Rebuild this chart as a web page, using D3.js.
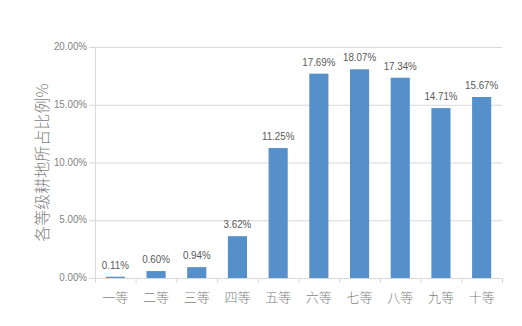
<!DOCTYPE html>
<html>
<head>
<meta charset="utf-8">
<script src="https://cdn.jsdelivr.net/npm/d3@7"></script>
<style>
  body { margin: 0; background: #fff; }
  text { font-family: "Liberation Sans", Arial, sans-serif; }
  .cjk { font-family: "Noto Sans CJK SC", sans-serif; font-weight: 300; }
</style>
</head>
<body>
<div id="chart"></div>
<script>
const categories = ["一等", "二等", "三等", "四等", "五等", "六等", "七等", "八等", "九等", "十等"];
const values = [0.11, 0.60, 0.94, 3.62, 11.25, 17.69, 18.07, 17.34, 14.71, 15.67];
const yTicks = [0, 5, 10, 15, 20];

const width = 522, height = 326;
const margin = { top: 47, right: 20, bottom: 48, left: 95 };
const narrow = 0.85; // the original uses a condensed face for numbers

const svg = d3.select("#chart").append("svg")
    .attr("width", width).attr("height", height);

const x = d3.scaleBand().domain(categories)
    .range([margin.left, width - margin.right]).paddingInner(0.53).paddingOuter(0.265);
const y = d3.scaleLinear().domain([0, 20]).range([height - margin.bottom, margin.top]);

// gridlines
svg.append("g").selectAll("line").data(yTicks).join("line")
    .attr("x1", margin.left - 6).attr("x2", width - margin.right)
    .attr("y1", d => y(d) + 0.5).attr("y2", d => y(d) + 0.5)
    .attr("stroke", "#d9d9d9").attr("stroke-width", 1);

// y axis line
svg.append("line")
    .attr("x1", margin.left + 0.5).attr("x2", margin.left + 0.5)
    .attr("y1", y(20)).attr("y2", y(0))
    .attr("stroke", "#d9d9d9");

// y tick labels
svg.append("g").selectAll("text").data(yTicks).join("text")
    .attr("transform", d => `translate(${margin.left - 8},${y(d) - 1}) scale(${narrow},1)`)
    .attr("dy", "0.35em").attr("text-anchor", "end")
    .attr("font-size", 11.5).attr("fill", "#7f7f7f")
    .text(d => d.toFixed(2) + "%");

// x ticks at band boundaries
const step = x.step();
const bounds = d3.range(categories.length + 1).map(i => margin.left + i * step);
svg.append("g").selectAll("line").data(bounds).join("line")
    .attr("x1", d => d + 0.5).attr("x2", d => d + 0.5)
    .attr("y1", y(0)).attr("y2", y(0) + 5)
    .attr("stroke", "#d9d9d9");

// bars
svg.append("g").selectAll("rect").data(values).join("rect")
    .attr("x", (d, i) => x(categories[i]))
    .attr("y", d => y(d))
    .attr("width", x.bandwidth())
    .attr("height", d => y(0) - y(d))
    .attr("fill", "#5590cb");

// value labels
svg.append("g").selectAll("text").data(values).join("text")
    .attr("transform", (d, i) =>
        `translate(${x(categories[i]) + x.bandwidth() / 2},${y(d) - 8}) scale(${narrow},1)`)
    .attr("text-anchor", "middle")
    .attr("font-size", 11.5).attr("fill", "#595959")
    .text(d => d.toFixed(2) + "%");

// x labels
svg.append("g").selectAll("text").data(categories).join("text")
    .attr("class", "cjk")
    .attr("x", d => x(d) + x.bandwidth() / 2)
    .attr("y", y(0) + 24)
    .attr("text-anchor", "middle")
    .attr("font-size", 13).attr("fill", "#7f7f7f")
    .text(d => d);

// y axis title
svg.append("text")
    .attr("class", "cjk")
    .attr("transform", `translate(48, ${(y(0) + y(20)) / 2}) rotate(-90)`)
    .attr("text-anchor", "middle")
    .attr("font-size", 16).attr("fill", "#7f7f7f")
    .text("各等级耕地所占比例%");
</script>
</body>
</html>
